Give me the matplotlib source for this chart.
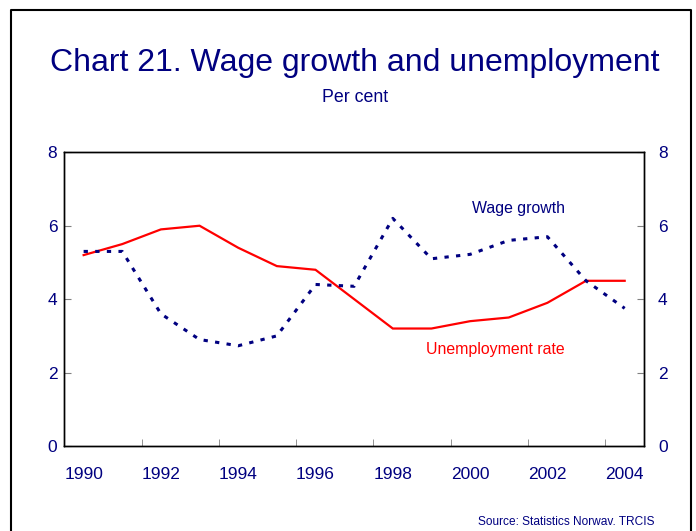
import matplotlib
matplotlib.use("Agg")
import matplotlib.pyplot as plt
from matplotlib.lines import Line2D
from matplotlib.ticker import FixedLocator

plt.rcParams['font.family'] = ['Liberation Sans', 'DejaVu Sans']

years = [1990, 1991, 1992, 1993, 1994, 1995, 1996, 1997, 1998, 1999,
         2000, 2001, 2002, 2003, 2004]
unemployment = [5.2, 5.5, 5.9, 6.0, 5.4, 4.9, 4.8, 4.0, 3.2, 3.2,
                3.4, 3.5, 3.9, 4.5, 4.5]
wage_growth = [5.3, 5.3, 3.6, 2.9, 2.73, 3.0, 4.4, 4.35, 6.2, 5.1,
               5.22, 5.6, 5.7, 4.5, 3.75]
year_labels = ['1990', '1992', '1994', '1996', '1998', '2000', '2002', '2004']
y_ticks = [0, 2, 4, 6, 8]

navy = '#000080'
fig = plt.figure(figsize=(6.96, 5.31), dpi=100)
W, H = 696, 531
ax = fig.add_axes([64.3 / W, 1 - 446 / H, (644 - 64.3) / W, (446 - 152.3) / H])

x = list(range(len(years)))
ax.plot(x, unemployment, color='#ff0000', lw=1.6, solid_joinstyle='miter')
ax.plot(x, wage_growth, color=navy, lw=2.2, linestyle=(0, (1.4, 2.4)),
        dash_capstyle='butt')

ax.set_xlim(-0.5, len(years) - 0.5)
ax.set_ylim(0, 8)
label_pos = [years.index(int(l)) for l in year_labels]
ax.set_xticks(label_pos)
ax.set_xticklabels(year_labels, color=navy, fontsize=12.5)
ax.tick_params(axis='x', which='major', length=0, pad=15)
ax.xaxis.set_minor_locator(FixedLocator([p + 1.5 for p in label_pos[:-1]]))
ax.tick_params(axis='x', which='minor', direction='in', length=5, color='#808080')

ax.set_yticks(y_ticks)
ax.set_yticklabels([str(v) for v in y_ticks], color=navy, fontsize=12.5)
ax.tick_params(axis='y', direction='in', length=5, color='#808080', pad=5,
               left=True, right=False, labelleft=True, labelright=False)

ax2 = ax.twinx()
ax2.set_ylim(0, 8)
ax2.set_yticks(y_ticks)
ax2.set_yticklabels([str(v) for v in y_ticks], color=navy, fontsize=12.5)
ax2.tick_params(axis='y', direction='in', length=5, color='#808080', pad=10)

for a in (ax, ax2):
    for s in a.spines.values():
        s.set_linewidth(1.0)
        s.set_color('black')

ax.text(14 - 1.55, 6.48, 'Wage growth', color=navy, fontsize=11.4, ha='right', va='center')
ax.text(14 - 1.55, 2.64, 'Unemployment rate', color='#ff0000', fontsize=11.4, ha='right', va='center')

fig.text(355 / W, 1 - 63 / H, 'Chart 21. Wage growth and unemployment', color=navy,
         fontsize=23, ha='center', va='center')
fig.text(355 / W, 1 - 97 / H, 'Per cent', color=navy, fontsize=12.8, ha='center', va='center')
fig.text(655 / W, 1 - 522 / H, 'Source: Statistics Norwav. TRCIS', color=navy,
         fontsize=8.6, ha='right', va='center')

# frame border
bx0, bx1, by0 = 11 / W, 691 / W, 1 - 10 / H
fig.add_artist(Line2D([bx0, bx0, bx1, bx1], [0, by0, by0, 0], color='black', lw=1.5,
                      transform=fig.transFigure))

fig.savefig('out.png', dpi=100)
